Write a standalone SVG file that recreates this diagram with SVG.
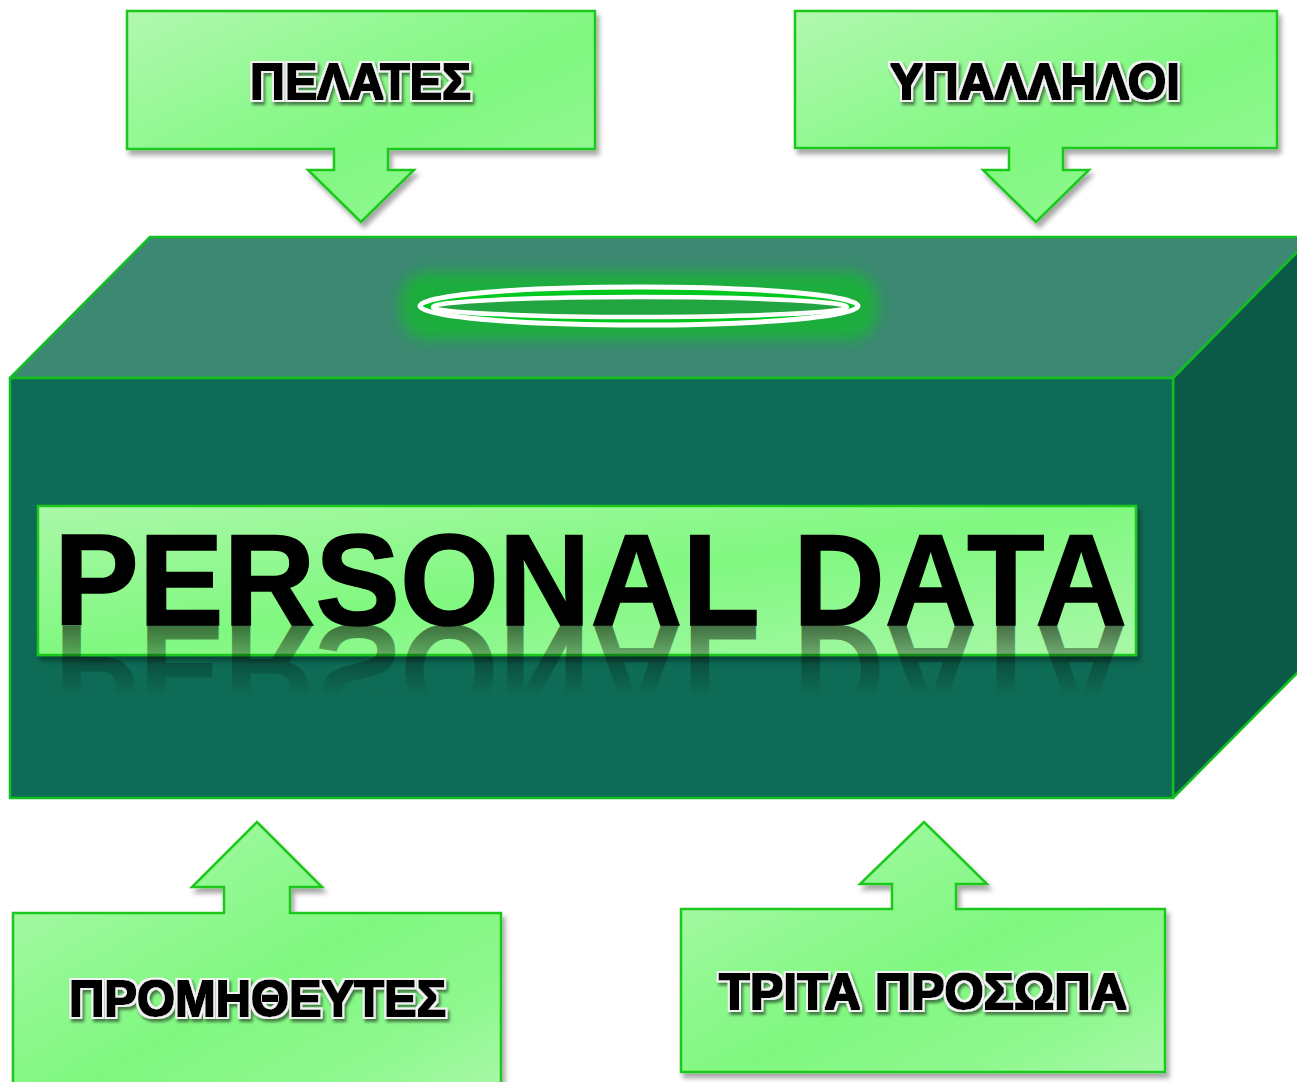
<svg xmlns="http://www.w3.org/2000/svg" width="1297" height="1082" viewBox="0 0 1297 1082">
<defs>
  <linearGradient id="lg" x1="0" y1="0" x2="1" y2="1">
    <stop offset="0" stop-color="#b2f8b0"/>
    <stop offset="0.35" stop-color="#90f890"/>
    <stop offset="0.55" stop-color="#80f880"/>
    <stop offset="0.8" stop-color="#8ef88e"/>
    <stop offset="1" stop-color="#a8f8a8"/>
  </linearGradient>
  <linearGradient id="lgPD" x1="0" y1="0" x2="1" y2="1">
    <stop offset="0" stop-color="#aaf8a8"/>
    <stop offset="0.5" stop-color="#80f880"/>
    <stop offset="1" stop-color="#a8f8a8"/>
  </linearGradient>
  <linearGradient id="refl" gradientUnits="userSpaceOnUse" x1="0" y1="625" x2="0" y2="555">
    <stop offset="0" stop-color="#000" stop-opacity="0.55"/>
    <stop offset="1" stop-color="#000" stop-opacity="0"/>
  </linearGradient>
  <filter id="sh" x="-5%" y="-5%" width="115%" height="120%">
    <feDropShadow dx="3" dy="5" stdDeviation="2.5" flood-color="#000" flood-opacity="0.35"/>
  </filter>
  <filter id="lblf" x="-10%" y="-40%" width="125%" height="190%">
    <feMorphology in="SourceAlpha" operator="dilate" radius="0.8" result="core"/>
    <feMorphology in="SourceAlpha" operator="dilate" radius="3.2" result="halo"/>
    <feFlood flood-color="#f2f2f2" result="wc"/>
    <feComposite in="wc" in2="halo" operator="in" result="white"/>
    <feOffset in="halo" dx="2" dy="3" result="off"/>
    <feGaussianBlur in="off" stdDeviation="1.8" result="offb"/>
    <feFlood flood-color="#000" flood-opacity="0.5" result="bc"/>
    <feComposite in="bc" in2="offb" operator="in" result="shadow"/>
    <feMerge>
      <feMergeNode in="shadow"/>
      <feMergeNode in="white"/>
      <feMergeNode in="core"/>
    </feMerge>
  </filter>
  <filter id="blur" x="-10%" y="-50%" width="120%" height="200%">
    <feGaussianBlur stdDeviation="7"/>
  </filter>
  <style>
    .node { fill: url(#lg); stroke: #1ec81e; stroke-width: 2.5; filter: url(#sh); }
    .lbl { font-family: "Liberation Sans", Arial, sans-serif; font-weight: bold; font-size: 50px; fill: #000; filter: url(#lblf); }
    .face { stroke: #10c020; stroke-width: 2.5; stroke-linejoin: round; }
    .big { font-family: "Liberation Sans", Arial, sans-serif; font-weight: bold; font-size: 129px; }
  </style>
</defs>
<rect width="1297" height="1082" fill="#ffffff"/>

<g id="box">
  <polygon class="face" fill="#3c8872" points="10,378 150,237 1312,237 1173,378"/>
  <polygon class="face" fill="#0b5a47" points="1173,378 1312,237 1312,658 1173,798"/>
  <rect class="face" fill="#0e6b55" x="10" y="378" width="1163" height="420"/>
</g>

<g id="slot">
  <rect x="400" y="272" width="478" height="68" rx="28" fill="#1fae3c" filter="url(#blur)"/>
  <ellipse cx="639" cy="306" rx="219" ry="19" fill="#00c81e" stroke="#ffffff" stroke-width="5"/>
  <ellipse cx="640" cy="307" rx="207" ry="10" fill="#22a540" stroke="#ffffff" stroke-width="4.5"/>
</g>

<g id="personal-data">
  <rect x="38" y="506" width="1098" height="149" fill="url(#lgPD)" stroke="#1ec81e" stroke-width="2.5" filter="url(#sh)"/>
  <text class="big" x="54" y="625" textLength="1073" lengthAdjust="spacingAndGlyphs" fill="url(#refl)" transform="translate(0,1250) scale(1,-1)">PERSONAL DATA</text>
  <text class="big" x="54" y="625" textLength="1073" lengthAdjust="spacingAndGlyphs" fill="#000" stroke="#000" stroke-width="1.5">PERSONAL DATA</text>
</g>

<g id="node-pelates">
  <path class="node" d="M127,11 H595 V149 H388 V170 H414 L361,222 L308,170 H334 V149 H127 Z"/>
  <text class="lbl" x="250" y="99" textLength="221" lengthAdjust="spacingAndGlyphs">ΠΕΛΑΤΕΣ</text>
</g>

<g id="node-ypalliloi">
  <path class="node" d="M795,11 H1277 V148 H1063 V170 H1089 L1036,222 L983,170 H1009 V148 H795 Z"/>
  <text class="lbl" x="890" y="99" textLength="290" lengthAdjust="spacingAndGlyphs">ΥΠΑΛΛΗΛΟΙ</text>
</g>

<g id="node-promitheutes">
  <path class="node" d="M13,913 H224 V887 H192 L257,822 L322,887 H290 V913 H501 V1095 H13 Z"/>
  <text class="lbl" x="69" y="1016" textLength="377" lengthAdjust="spacingAndGlyphs">ΠΡΟΜΗΘΕΥΤΕΣ</text>
</g>

<g id="node-trita">
  <path class="node" d="M681,909 H892 V884 H860 L924,822 L987,884 H956 V909 H1165 V1072 H681 Z"/>
  <text class="lbl" x="719" y="1009" textLength="408" lengthAdjust="spacingAndGlyphs">ΤΡΙΤΑ ΠΡΟΣΩΠΑ</text>
</g>

<g id="connectors"></g>
</svg>
